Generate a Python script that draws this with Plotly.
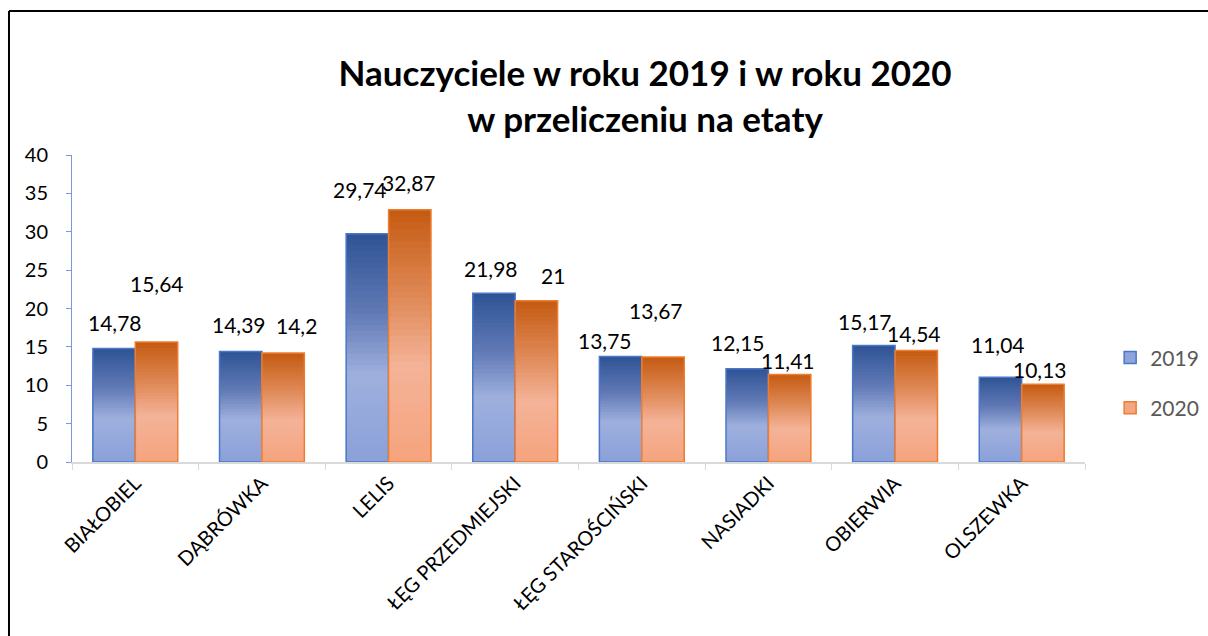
import plotly.graph_objects as go

# ---- data ----
categories = ["BIAŁOBIEL", "DĄBRÓWKA", "LELIS", "ŁĘG PRZEDMIEJSKI",
              "ŁĘG STAROŚCIŃSKI", "NASIADKI", "OBIERWIA", "OLSZEWKA"]
values_2019 = [14.78, 14.39, 29.74, 21.98, 13.75, 12.15, 15.17, 11.04]
values_2020 = [15.64, 14.2, 32.87, 21, 13.67, 11.41, 14.54, 10.13]
series_names = ["2019", "2020"]

# ---- style ----
FONT = "Lato"
# label offsets (pixels): (dx, dy-above-bar-top) as in the reference layout
label_off_2019 = [(1, 26), (-2, 27), (-7, 44), (-3, 25), (-16, 16), (-9, 26), (-9, 24), (-2, 33)]
label_off_2020 = [(0, 58), (13, 28), (-1, 27), (17, 25), (-7, 47), (-2, 14), (-2, 17), (-3, 15)]
BAR_HALF = 21.2  # half of a bar width in px (bar offset from category centre)

grad_blue = [(0.0, (0x2E, 0x53, 0x95)), (0.35, (0x62, 0x7A, 0xB6)),
             (0.62, (0x9F, 0xB0, 0xDE)), (1.0, (0x8A, 0xA0, 0xD9))]
grad_orange = [(0.0, (0xC5, 0x5A, 0x11)), (0.35, (0xDF, 0x8A, 0x58)),
               (0.62, (0xF4, 0xB3, 0x98)), (1.0, (0xF5, 0xA3, 0x7D))]
border_cols = ["#4A78C8", "#ED7D31"]
legend_cols = ["#8FA4DA", "#F2A683"]


def grad_color(stops, t):
    for (t0, c0), (t1, c1) in zip(stops[:-1], stops[1:]):
        if t0 <= t <= t1:
            f = (t - t0) / (t1 - t0) if t1 > t0 else 0
            c = [round(a + (b - a) * f) for a, b in zip(c0, c1)]
            return f"rgb({c[0]},{c[1]},{c[2]})"
    c = stops[-1][1]
    return f"rgb({c[0]},{c[1]},{c[2]})"


fig = go.Figure()
N = 40
for name, vals, grad, bcol, lcol in zip(series_names, [values_2019, values_2020],
                                         [grad_blue, grad_orange], border_cols, legend_cols):
    # nested bars from tallest to shortest -> vertical gradient relative to each bar
    for k in range(N, 0, -1):
        t = 1 - (k - 0.5) / N  # 0 = top, 1 = bottom
        fig.add_trace(go.Bar(
            x=categories, y=[v * k / N for v in vals], offsetgroup=name,
            marker=dict(color=grad_color(grad, t), line=dict(width=0)),
            showlegend=False, hoverinfo="skip"))
    # outline
    fig.add_trace(go.Bar(
        x=categories, y=vals, offsetgroup=name, name=name,
        marker=dict(color="rgba(0,0,0,0)", line=dict(color=bcol, width=1.5)),
        showlegend=False))
    # legend entry
    fig.add_trace(go.Bar(
        x=categories, y=[None] * len(categories), offsetgroup=name, name=name,
        legendgroup=name,
        marker=dict(color=lcol, line=dict(color=bcol, width=1.5)),
        showlegend=True))

annotations = []
for sign, vals, offs in [(-1, values_2019, label_off_2019), (1, values_2020, label_off_2020)]:
    for c, v, (dx, dy) in zip(categories, vals, offs):
        annotations.append(dict(
            x=c, y=v, xref="x", yref="y", text=f"{v:g}".replace(".", ","),
            showarrow=False, xanchor="center", yanchor="middle",
            xshift=sign * BAR_HALF + dx, yshift=dy,
            font=dict(family=FONT, size=21, color="black")))

# chart-area frame (top and left edges are the only ones inside the picture)
frame = [
    dict(type="line", xref="paper", yref="paper", x0=-0.0622, x1=1.3, y0=1.469, y1=1.469,
         line=dict(color="black", width=2), layer="below"),
    dict(type="line", xref="paper", yref="paper", x0=-0.0622, x1=-0.0622, y0=-0.7, y1=1.469,
         line=dict(color="black", width=2), layer="below"),
]

fig.update_layout(
    width=1208, height=636,
    paper_bgcolor="white", plot_bgcolor="white",
    margin=dict(l=72, r=123, t=155, b=174, autoexpand=False),
    barmode="group", bargap=0.33, bargroupgap=0,
    title=dict(text="Nauczyciele w roku 2019 i w roku 2020<br>w przeliczeniu na etaty",
               x=0.534, xanchor="center", y=0.864, yanchor="middle",
               font=dict(family=FONT, size=35, color="black", weight="bold")),
    font=dict(family=FONT, color="black"),
    legend=dict(xref="container", yref="container", x=0.919, xanchor="left",
                y=0.398, yanchor="middle",
                traceorder="grouped", tracegroupgap=20,
                font=dict(family=FONT, size=21, color="#595959"),
                bgcolor="rgba(0,0,0,0)"),
    annotations=annotations,
    shapes=frame,
)
fig.update_yaxes(range=[0, 40], dtick=5, showgrid=False, zeroline=False,
                 showline=True, linecolor="#7A97D8", linewidth=1,
                 ticks="outside", ticklen=5, tickcolor="#7A97D8",
                 ticklabelstandoff=14,
                 tickfont=dict(family=FONT, size=20, color="black"))
fig.update_xaxes(showgrid=False, showline=True, linecolor="#D9D9D9", linewidth=1.5,
                 ticks="outside", tickson="boundaries", ticklen=6, tickcolor="#D9D9D9",
                 tickangle=-45, tickfont=dict(family=FONT, size=20, color="black"))

fig.write_html(
    "out.html", config={"displayModeBar": False},
    post_script="document.body.style.margin='0';document.body.style.overflow='hidden';")
